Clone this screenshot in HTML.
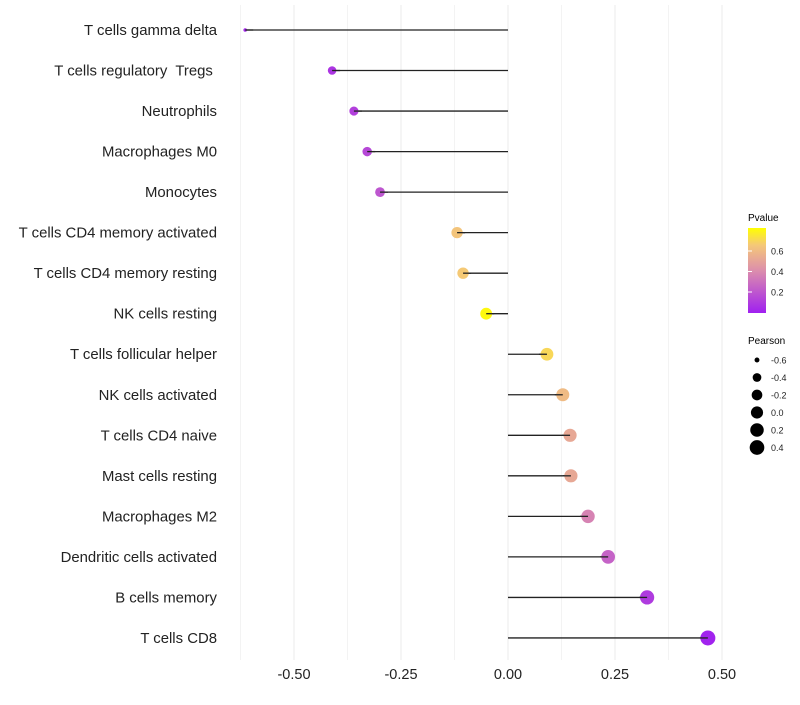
<!DOCTYPE html>
<html><head><meta charset="utf-8"><style>
body{margin:0;background:#fff;font-family:"Liberation Sans",sans-serif}
svg text{font-family:"Liberation Sans",sans-serif;white-space:pre}
</style></head><body>
<svg id="chart" width="800" height="700">
<defs><linearGradient id="pg" x1="0" y1="1" x2="0" y2="0">
<stop offset="0" stop-color="#a020f0"/><stop offset="0.5" stop-color="#dc8eac"/><stop offset="0.8" stop-color="#f5c878"/><stop offset="1" stop-color="#ffff00"/></linearGradient></defs>
<g id="grid"></g><g id="marks"></g><g id="ylabels"></g><g id="xlabels"></g>
<g>
<text x="748" y="221" font-size="10">Pvalue</text>
<rect x="748" y="228" width="18" height="85" fill="url(#pg)"/>
<g id="pticks"></g>
</g>
<g id="sleg">
<text x="748" y="344" font-size="10">Pearson</text>
</g>
</svg>
<script>
const categories=["T cells gamma delta","T cells regulatory  Tregs ","Neutrophils","Macrophages M0","Monocytes","T cells CD4 memory activated","T cells CD4 memory resting","NK cells resting","T cells follicular helper","NK cells activated","T cells CD4 naive","Mast cells resting","Macrophages M2","Dendritic cells activated","B cells memory","T cells CD8"];
const pearson=[-0.614,-0.411,-0.36,-0.329,-0.299,-0.119,-0.105,-0.051,0.091,0.128,0.145,0.147,0.187,0.234,0.325,0.467];
const pvalue=[0.03,0.08,0.12,0.15,0.2,0.64,0.66,0.8,0.7,0.6,0.52,0.52,0.37,0.25,0.1,0.01];
const xTicks=[-0.5,-0.25,0,0.25,0.5];
const xTickLabels=["-0.50","-0.25","0.00","0.25","0.50"];
const pTicks=[0.2,0.4,0.6];
const sizeLegend=[-0.6,-0.4,-0.2,0.0,0.2,0.4];
const NS="http://www.w3.org/2000/svg";
const X=v=>508+v*428, Y=i=>30+i*40.53;
const pY=p=>312.5-p*102.5;
const R=v=>{const t=Math.max(0,(v+0.614)/1.081);return 1.8+5.7*Math.sqrt(t);};
const stops=[[0,[160,32,240]],[0.5,[220,142,172]],[0.8,[245,200,120]],[1,[255,255,0]]];
function col(p){let t=Math.min(1,Math.max(0,p/0.82));for(let k=1;k<stops.length;k++){if(t<=stops[k][0]){const a=stops[k-1],b=stops[k],f=(t-a[0])/(b[0]-a[0]);return "rgb("+a[1].map((c,j)=>Math.round(c+(b[1][j]-c)*f)).join(",")+")";}}return "rgb(255,255,0)";}
function mk(tag,at,parent){const e=document.createElementNS(NS,tag);for(const k in at)e.setAttribute(k,at[k]);document.getElementById(parent).appendChild(e);return e;}
for(let g=-0.625;g<=0.5001;g+=0.125){const l=mk("line",{x1:X(g),x2:X(g),y1:5,y2:660,stroke:"#ebebeb","stroke-width":Math.abs(g*4-Math.round(g*4))<1e-6?1:0.6},"grid");

}
xTicks.forEach((v,i)=>{const t=mk("text",{x:X(v),y:679,"font-size":14.5,"text-anchor":"middle",fill:"#222"},"xlabels");t.textContent=xTickLabels[i];

});
categories.forEach((c,i)=>{const t=mk("text",{x:217,y:Y(i)+5,"font-size":14.9,"text-anchor":"end",fill:"#222"},"ylabels");t.textContent=c;


const s=mk("line",{x1:X(0),x2:X(pearson[i]),y1:Y(i),y2:Y(i),stroke:"#222","stroke-width":1.3},"marks");


const d=mk("circle",{cx:X(pearson[i]),cy:Y(i),r:R(pearson[i]),fill:col(pvalue[i])},"marks");


const s2=mk("line",{x1:X(pearson[i]),x2:X(pearson[i])+(pearson[i]<0?8:-8),y1:Y(i),y2:Y(i),stroke:"#222","stroke-width":1.3},"marks");

});
pTicks.forEach(p=>{const t=mk("text",{x:771,y:pY(p)+3.5,"font-size":9,fill:"#222"},"pticks");t.textContent=p.toFixed(1);


const l=mk("line",{x1:748,x2:752,y1:pY(p),y2:pY(p),stroke:"#fff"},"pticks");

});
sizeLegend.forEach((v,i)=>{const y=360+i*17.5;const c=mk("circle",{cx:757,cy:y,r:R(v),fill:"#000"},"sleg");


const t=mk("text",{x:771,y:y+3.5,"font-size":9,fill:"#222"},"sleg");t.textContent=v.toFixed(1);

});
</script>
</body></html>
